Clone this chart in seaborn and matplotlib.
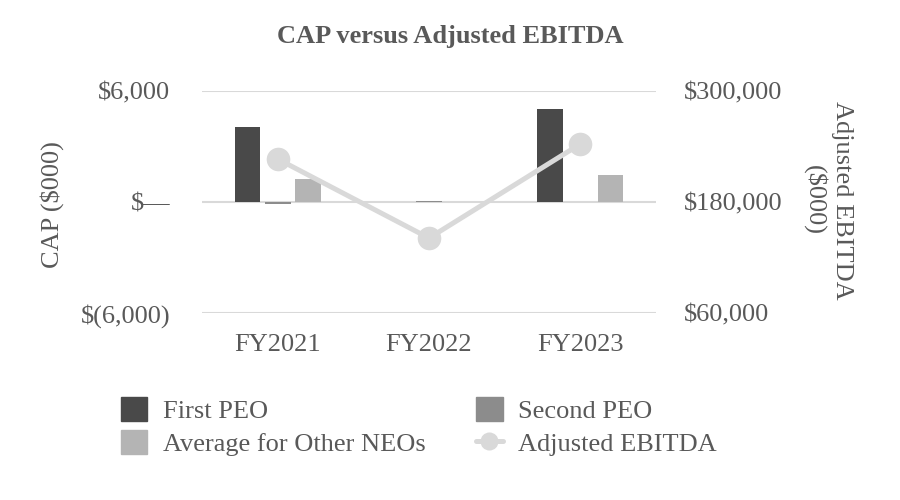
import matplotlib
matplotlib.use("Agg")
import matplotlib.pyplot as plt
from matplotlib.patches import Patch
from matplotlib.lines import Line2D
import pandas as pd
import seaborn as sns

# chart data ($000)
years = ["FY2021", "FY2022", "FY2023"]
first_peo = [4050, 0, 5030]
second_peo = [-100, 60, 0]
avg_other_neos = [1240, 0, 1460]
adjusted_ebitda = [226500, 141000, 242700]

series_names = ["First PEO", "Second PEO", "Average for Other NEOs"]
bar_colors = ["#494949", "#8c8c8c", "#b4b4b4"]
line_color = "#d9d9d9"
text_color = "#595959"

df = pd.DataFrame({
    "year": years * 3,
    "series": [s for s in series_names for _ in years],
    "cap": first_peo + second_peo + avg_other_neos,
})

sns.set_style("white")
plt.rcParams["font.family"] = ["Liberation Serif", "DejaVu Serif"]
plt.rcParams["text.color"] = text_color
plt.rcParams["axes.labelcolor"] = text_color
plt.rcParams["xtick.color"] = text_color
plt.rcParams["ytick.color"] = text_color

fs = 19

fig = plt.figure(figsize=(9, 5), dpi=100)
ax = fig.add_axes([202 / 900, 1 - 313 / 500, 454 / 900, 222 / 500])

sns.barplot(data=df, x="year", y="cap", hue="series", palette=bar_colors,
            width=0.6, gap=0.15, linewidth=0, ax=ax, legend=False)

ax.set_xlim(-0.5, 2.5)
ax.set_ylim(-6000, 6000)
ax.set_yticks([-6000, 0, 6000])
ax.set_yticklabels(["$(6,000)", "$\u2014", "$6,000"])
ax.yaxis.grid(True, color="#d9d9d9", linewidth=1.5)
ax.set_axisbelow(True)
for s in ax.spines.values():
    s.set_visible(False)
ax.tick_params(axis="y", length=0, labelsize=fs, pad=23)
ax.tick_params(axis="x", length=0, labelsize=fs, pad=15)
ax.set_xlabel("")
ax.set_ylabel("")

ax2 = ax.twinx()
sns.lineplot(x=years, y=adjusted_ebitda, ax=ax2, color=line_color,
             linewidth=3.6, marker="o", markersize=17, markeredgewidth=0,
             sort=False)
ax2.set_ylim(60000, 300000)
ax2.set_yticks([60000, 180000, 300000])
ax2.set_yticklabels(["$60,000", "$180,000", "$300,000"])
for s in ax2.spines.values():
    s.set_visible(False)
ax2.tick_params(axis="y", length=0, labelsize=fs, pad=20)

# axis titles and chart title
fig.text(52 / 900, 1 - 205 / 500, "CAP ($000)", rotation=90,
         ha="center", va="center", fontsize=fs)
fig.text(828 / 900, 1 - 200 / 500, "Adjusted EBITDA\n($000)", rotation=270,
         ha="center", va="center", multialignment="center",
         fontsize=fs, linespacing=1.2)
fig.text(0.5, 1 - 36 / 500, "CAP versus Adjusted EBITDA", ha="center",
         va="center", fontsize=fs, fontweight="bold")

handles = [
    Patch(color=bar_colors[0], label=series_names[0]),
    Patch(color=bar_colors[2], label=series_names[2]),
    Patch(color=bar_colors[1], label=series_names[1]),
    Line2D([], [], color=line_color, linewidth=3.6, marker="o",
           markersize=13, markeredgewidth=0, label="Adjusted EBITDA"),
]
fig.legend(handles=handles, ncol=2, frameon=False, loc="upper left",
           bbox_to_anchor=(121 / 900, 1 - 397 / 500), fontsize=fs,
           borderpad=0, borderaxespad=0,
           handlelength=1.0, handleheight=1.0, handletextpad=0.6,
           columnspacing=1.9, labelspacing=0.28)

fig.savefig("out.png", dpi=100)
